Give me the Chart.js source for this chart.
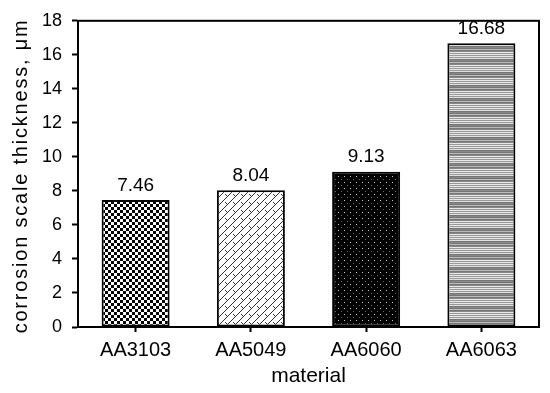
<!DOCTYPE html>
<html>
<head>
<meta charset="utf-8">
<script src="https://cdn.jsdelivr.net/npm/chart.js@4"></script>
<style>
  html, body { margin: 0; padding: 0; background: #fff; }
  #wrap { width: 550px; height: 393px; }
</style>
</head>
<body>
<div id="wrap"><canvas id="scale-chart"></canvas></div>
<script>
// Data
const materials = ['AA3103', 'AA5049', 'AA6060', 'AA6063'];
const thickness = [7.46, 8.04, 9.13, 16.68];
const valueLabels = ['7.46', '8.04', '9.13', '16.68'];
const yTitle = 'corrosion scale thickness, μm';

const FONT = "'Liberation Sans', Arial, sans-serif";

// Fill patterns for each bar
function makePattern(w, h, draw) {
    const c = document.createElement('canvas');
    c.width = w; c.height = h;
    const g = c.getContext('2d');
    draw(g);
    return c.getContext('2d').createPattern(c, 'repeat');
}

const checker = makePattern(6, 6, g => {
    g.fillStyle = '#fff'; g.fillRect(0, 0, 6, 6);
    g.fillStyle = '#000';
    g.fillRect(0, 0, 3, 3);
    g.fillRect(3, 3, 3, 3);
});

const bricks = makePattern(8, 8, g => {
    g.fillStyle = '#fff'; g.fillRect(0, 0, 8, 8);
    g.fillStyle = '#333';
    for (let i = 0; i < 8; i++) g.fillRect(i, 7 - i, 1, 1);
    g.fillRect(1, 2, 1, 1);
    g.fillRect(2, 3, 1, 1);
});

const dots = makePattern(6, 6, g => {
    g.fillStyle = '#000'; g.fillRect(0, 0, 6, 6);
    g.fillStyle = '#ccc';
    g.fillRect(2, 2, 1, 1);
    g.fillStyle = '#666';
    g.fillRect(5, 5, 1, 1);
});

const stripes = makePattern(4, 13, g => {
    const rows = ['#e8e8e8', '#999', '#e8e8e8', '#999', '#e8e8e8', '#999', '#e0e0e0',
                  '#777', '#888', '#777', '#bbb', '#777', '#888'];
    rows.forEach((col, i) => { g.fillStyle = col; g.fillRect(0, i, 4, 1); });
});

// Box around the plot area, value labels over the bars, y title
const framePlugin = {
    id: 'frame',
    afterDatasetsDraw(chart) {
        const ctx = chart.ctx;
        const a = chart.chartArea;
        ctx.save();
        ctx.strokeStyle = '#000';
        ctx.lineWidth = 2;
        ctx.strokeRect(a.left, a.top, a.right - a.left, a.bottom - a.top);

        const meta = chart.getDatasetMeta(0);
        ctx.fillStyle = '#000';
        ctx.font = '19px ' + FONT;
        ctx.textAlign = 'center';
        ctx.textBaseline = 'bottom';
        meta.data.forEach((bar, i) => {
            ctx.fillText(valueLabels[i], bar.x, bar.y - 5);
        });

        // rotated axis title, slightly spaced out like the original
        ctx.translate(21, (a.top + a.bottom) / 2 + 2);
        ctx.rotate(-Math.PI / 2);
        ctx.font = '20px ' + FONT;
        ctx.letterSpacing = '1.8px';
        ctx.textBaseline = 'middle';
        ctx.fillText(yTitle, 0, 0);
        ctx.restore();
    }
};

const ctx = document.getElementById('scale-chart').getContext('2d');
new Chart(ctx, {
    type: 'bar',
    data: {
        labels: materials,
        datasets: [{
            data: thickness,
            backgroundColor: [checker, bricks, dots, stripes],
            borderColor: '#000',
            borderWidth: 2,
            borderSkipped: false,
            categoryPercentage: 1,
            barPercentage: 0.59
        }]
    },
    options: {
        responsive: true,
        maintainAspectRatio: false,
        animation: false,
        devicePixelRatio: 1,
        layout: { padding: { top: 19, right: 11, left: 0, bottom: 0 } },
        plugins: {
            legend: { display: false },
            tooltip: { enabled: false }
        },
        scales: {
            x: {
                grid: {
                    offset: false,
                    drawOnChartArea: false,
                    tickLength: 5,
                    tickColor: '#000',
                    tickWidth: 2
                },
                border: { color: '#000', width: 2 },
                ticks: { color: '#000', font: { family: FONT, size: 20 }, padding: 6 },
                title: {
                    display: true,
                    text: 'material',
                    color: '#000',
                    font: { family: FONT, size: 21 },
                    padding: { top: 0, bottom: 4 }
                },
                afterFit(scale) { scale.height = 66; }
            },
            y: {
                min: 0,
                max: 18,
                grid: {
                    drawOnChartArea: false,
                    tickLength: 6,
                    tickColor: '#000',
                    tickWidth: 2
                },
                border: { color: '#000', width: 2 },
                ticks: {
                    stepSize: 2,
                    color: '#000',
                    font: { family: FONT, size: 18 },
                    padding: 10
                },
                afterFit(scale) { scale.width = 78; }
            }
        }
    },
    plugins: [framePlugin]
});
</script>
</body>
</html>
